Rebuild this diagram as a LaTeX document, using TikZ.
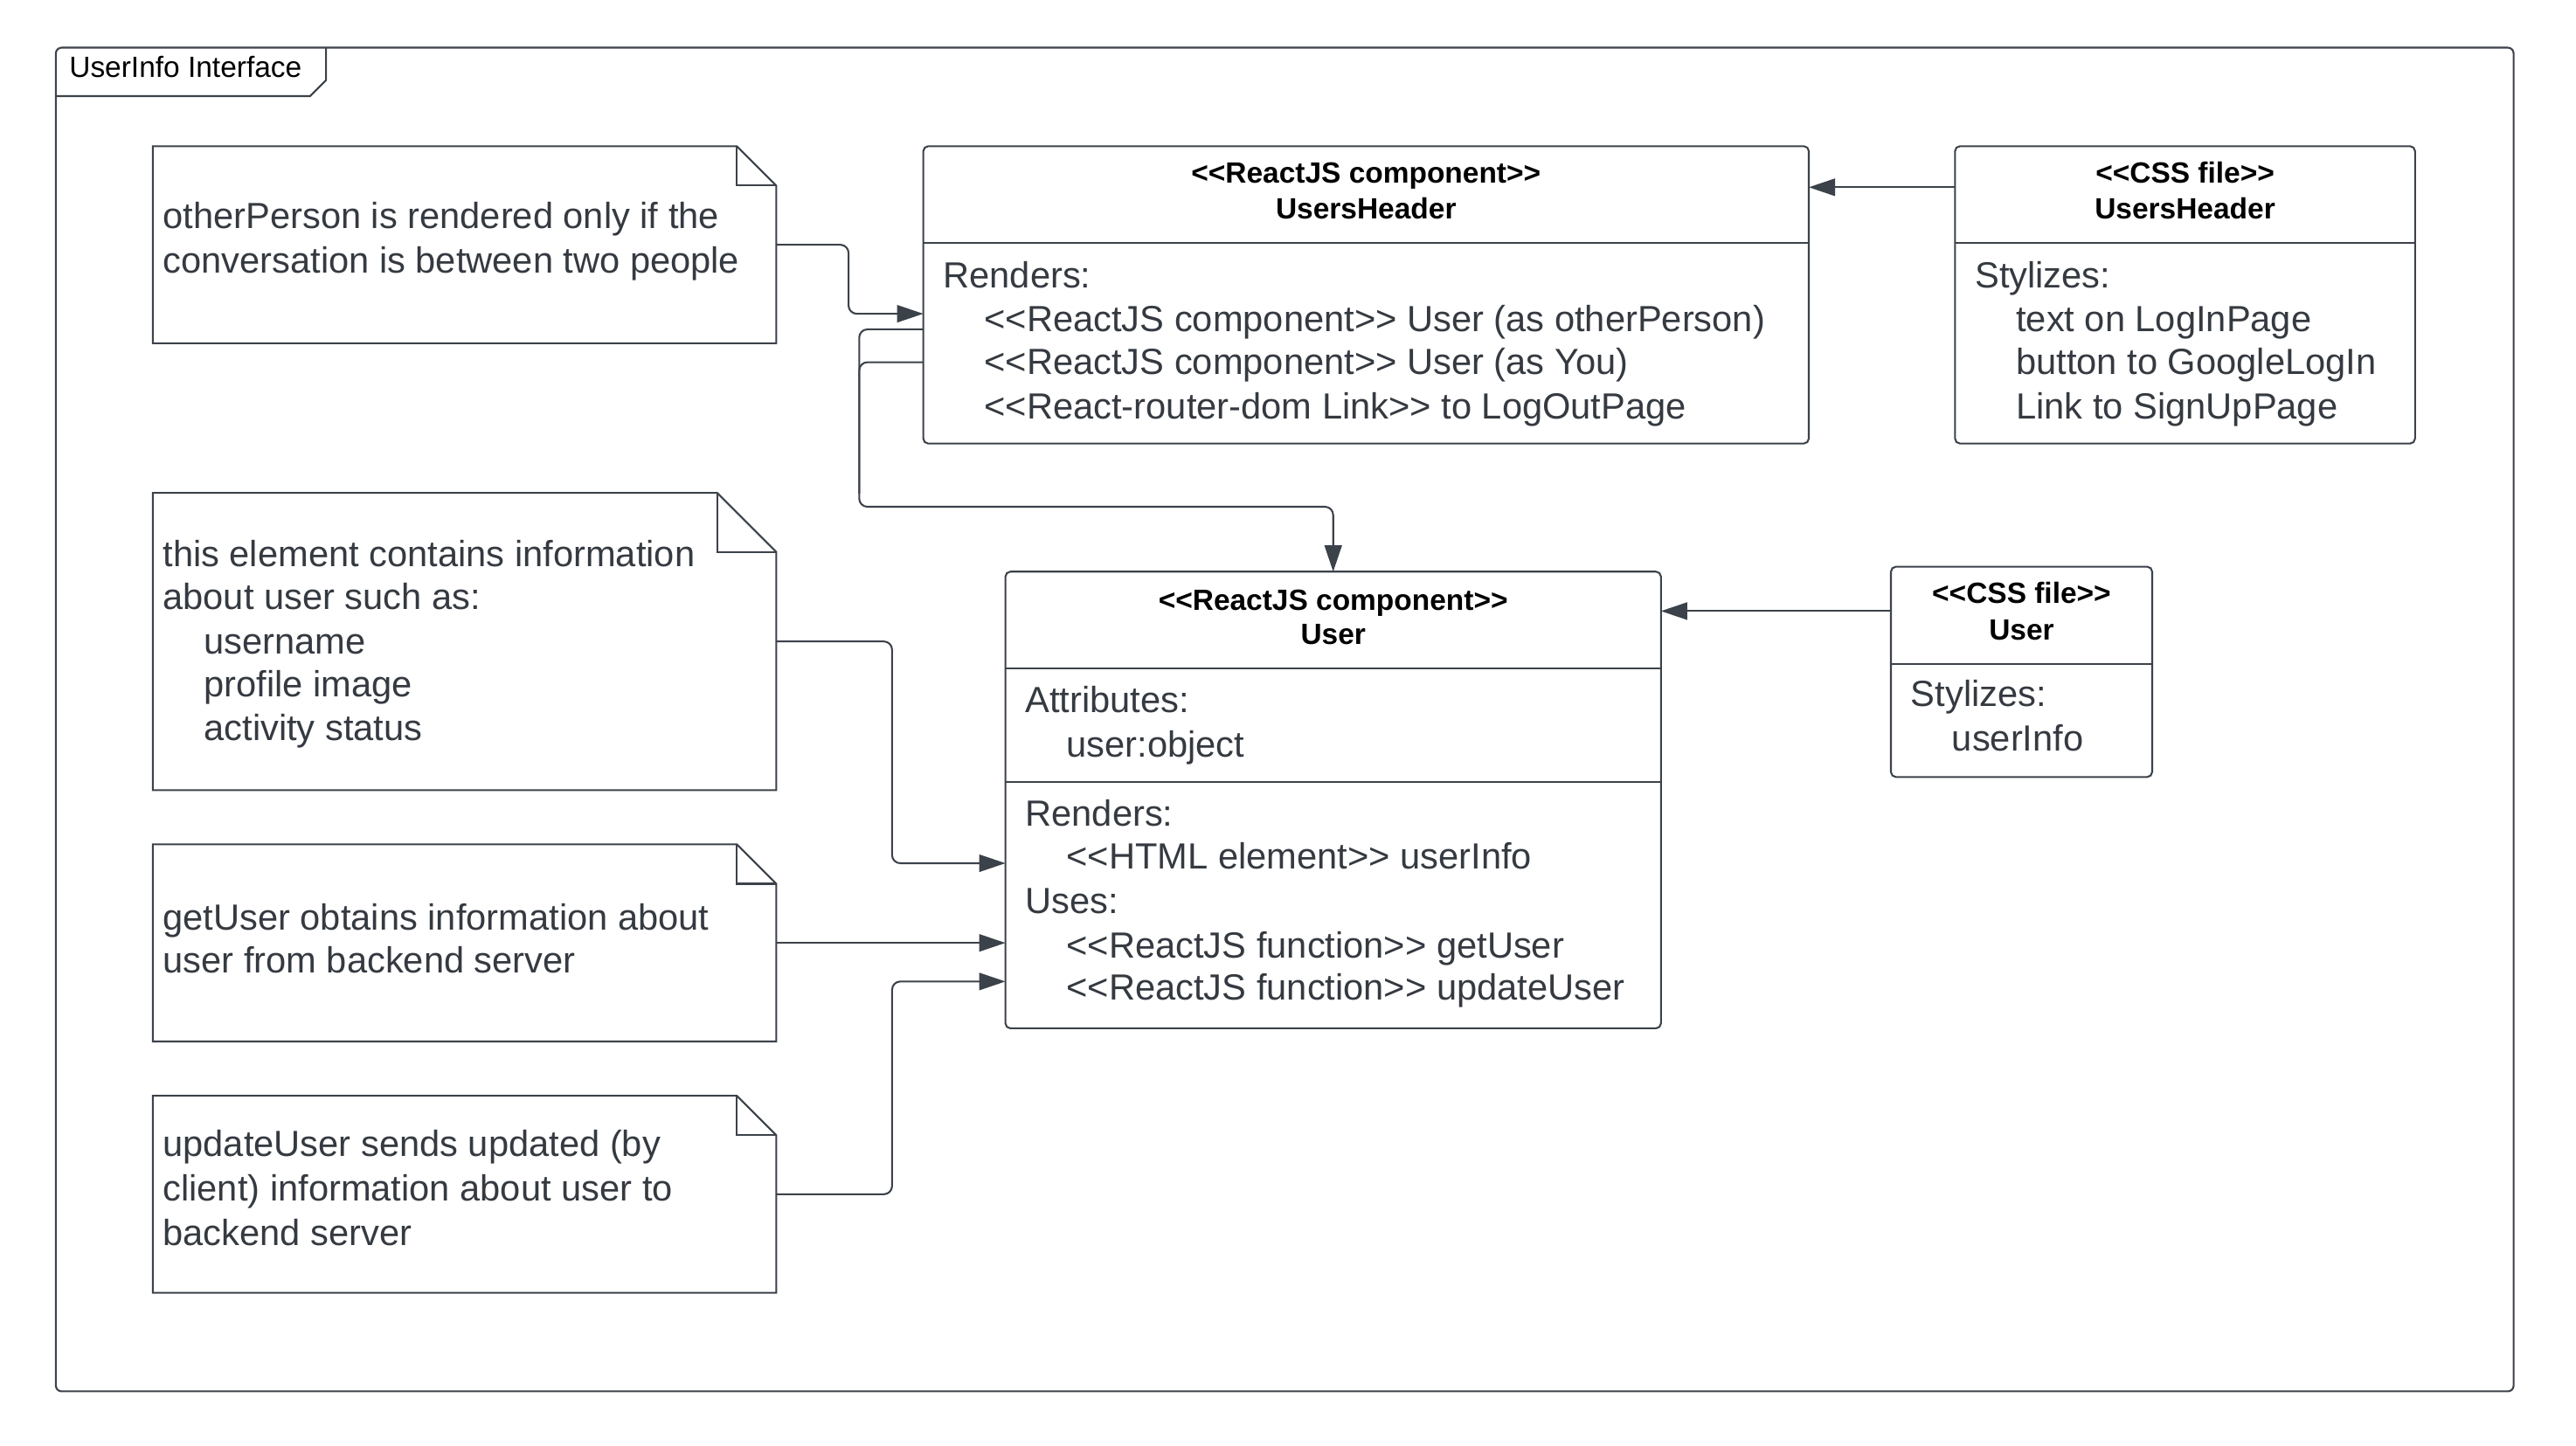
\documentclass[tikz,border=0pt]{standalone}
\usepackage{fontspec}
\setmainfont{Liberation Sans}
\usetikzlibrary{arrows.meta}
\definecolor{ink}{HTML}{3C424A}
\definecolor{txt}{HTML}{353A41}
% guillemet-free stereotype brackets
\newcommand\ltlt{<{}<}
\newcommand\gtgt{>{}>}
% note outline with a folded top-right corner
\newcommand\dogear[2]{%
  \draw[boxline] (#1.north west) -- ([xshift=-#2pt]#1.north east) -- ([yshift=-#2pt]#1.north east)
     -- (#1.south east) -- (#1.south west) -- cycle;
  \draw[boxline] ([xshift=-#2pt]#1.north east) -- ([xshift=-#2pt,yshift=-#2pt]#1.north east)
     -- ([yshift=-#2pt]#1.north east);}
\begin{document}
\begin{tikzpicture}[x=1pt,y=-1pt,
  boxline/.style={draw=ink, line width=1.1pt},
  umlbox/.style={boxline, rounded corners=3pt, fill=white, inner sep=0pt, outer sep=0pt, anchor=north west},
  area/.style={inner sep=0pt, outer sep=0pt, anchor=north west},
  conn/.style={draw=ink, line width=1.1pt, rounded corners=5pt},
  arr/.style={conn, -{Triangle[length=16pt,width=10.5pt]}},
  body/.style={text=txt, font=\fontsize{22.15}{26}\selectfont, inner sep=0pt, anchor=base west},
  title/.style={text=black, font=\fontsize{17.8}{22}\selectfont\bfseries, inner sep=0pt, anchor=base},
  framelabel/.style={text=black, font=\fontsize{17.8}{21}\selectfont, inner sep=0pt, anchor=base west},
]
\useasboundingbox[fill=white] (0,0) rectangle (1568,880);

% outer frame with its name tab
\node[umlbox, rounded corners=3.5pt, fill=none, minimum width=1496pt, minimum height=818pt] (frame) at (34,29) {};
\draw[boxline] ([yshift=-29.5pt]frame.north west) -- ++(154.8,0) -- ++(9.7,-9.7) -- ++(0,-19.8);
\node[framelabel] (flabel) at (42,47.3) {UserInfo Interface};

% notes
\node[area, minimum width=379.5pt, minimum height=120pt] (n1) at (93,89) {};
\dogear{n1}{24}
\node[area, minimum width=379.5pt, minimum height=181pt] (n2) at (93,300) {};
\dogear{n2}{36}
\node[area, minimum width=379.5pt, minimum height=120pt] (n3) at (93,514) {};
\dogear{n3}{24}
\node[area, minimum width=379.5pt, minimum height=120pt] (n4) at (93,667) {};
\dogear{n4}{24}

\node[body] (n1a) at (99,139) {otherPerson is rendered only if the};
\node[body] (n1b) at (99,166) {conversation is between two people};

\node[body] (n2a) at (99,345) {this element contains information};
\node[body] (n2b) at (99,371) {about user such as:};
\node[body] (n2c) at (124,398) {username};
\node[body] (n2d) at (124,424) {profile image};
\node[body] (n2e) at (124,451) {activity status};

\node[body] (n3a) at (99,566) {getUser obtains information about};
\node[body] (n3b) at (99,592) {user from backend server};

\node[body] (n4a) at (99,704) {updateUser sends updated (by};
\node[body] (n4b) at (99,731) {client) information about user to};
\node[body] (n4c) at (99,758) {backend server};

% UsersHeader component
\node[umlbox, minimum width=539pt, minimum height=181pt] (uh) at (562,89) {};
\draw[boxline] ([yshift=-59pt]uh.north west) -- ([yshift=-59pt]uh.north east);
\node[title] (uht1) at (831.5,111.4) {\ltlt ReactJS component\gtgt};
\node[title] (uht2) at (831.5,133.4) {UsersHeader};
\node[body] (uhb1) at (574,175) {Renders:};
\node[body] (uhb2) at (599,202) {\ltlt ReactJS component\gtgt{} User (as otherPerson)};
\node[body] (uhb3) at (599,228) {\ltlt ReactJS component\gtgt{} User (as You)};
\node[body] (uhb4) at (599,255) {\ltlt React-router-dom Link\gtgt{} to LogOutPage};

% UsersHeader stylesheet
\node[umlbox, minimum width=280pt, minimum height=181pt] (cssuh) at (1190,89) {};
\draw[boxline] ([yshift=-59pt]cssuh.north west) -- ([yshift=-59pt]cssuh.north east);
\node[title] (cuht1) at (1330,111.4) {\ltlt CSS file\gtgt};
\node[title] (cuht2) at (1330,133.4) {UsersHeader};
\node[body] (cuhb1) at (1202,175) {Stylizes:};
\node[body] (cuhb2) at (1227,202) {text on LogInPage};
\node[body] (cuhb3) at (1227,228) {button to GoogleLogIn};
\node[body] (cuhb4) at (1227,255) {Link to SignUpPage};

% User component
\node[umlbox, minimum width=399pt, minimum height=278pt] (user) at (612,348) {};
\draw[boxline] ([yshift=-59pt]user.north west) -- ([yshift=-59pt]user.north east);
\draw[boxline] ([yshift=-128pt]user.north west) -- ([yshift=-128pt]user.north east);
\node[title] (ut1) at (811.5,371.4) {\ltlt ReactJS component\gtgt};
\node[title] (ut2) at (811.5,392.4) {User};
\node[body] (ub1) at (624,434) {Attributes:};
\node[body] (ub2) at (649,461) {user:object};
\node[body] (ub3) at (624,503) {Renders:};
\node[body] (ub4) at (649,529) {\ltlt HTML element\gtgt{} userInfo};
\node[body] (ub5) at (624,556) {Uses:};
\node[body] (ub6) at (649,583) {\ltlt ReactJS function\gtgt{} getUser};
\node[body] (ub7) at (649,609) {\ltlt ReactJS function\gtgt{} updateUser};

% User stylesheet
\node[umlbox, minimum width=159pt, minimum height=128pt] (cssu) at (1151,345) {};
\draw[boxline] ([yshift=-59pt]cssu.north west) -- ([yshift=-59pt]cssu.north east);
\node[title] (cut1) at (1230.5,367.4) {\ltlt CSS file\gtgt};
\node[title] (cut2) at (1230.5,389.4) {User};
\node[body] (cub1) at (1163,430) {Stylizes:};
\node[body] (cub2) at (1188,457) {userInfo};

% connectors
\draw[arr] (n1.east) -- ++(44,0) |- ([yshift=-11.5pt]uh.west);
\draw[arr] ([yshift=-21pt]uh.west) -- ++(-39,0) |- ([yshift=39.5pt]user.north) -- (user.north);
\draw[conn] ([yshift=-41pt]uh.west) -- ++(-39,0) -- ++(0,80);
\draw[arr] ([yshift=65.5pt]cssuh.west) -- ([yshift=65.5pt]uh.east);
\draw[arr] ([yshift=37pt]cssu.west) -- ([yshift=115pt]user.east);
\draw[arr] (n2.east) -- ++(70.5,0) |- ([yshift=-38.5pt]user.west);
\draw[arr] (n3.east) -- ([yshift=-87pt]user.west);
\draw[arr] (n4.east) -- ++(70.5,0) |- ([yshift=-110.5pt]user.west);
\end{tikzpicture}
\end{document}
